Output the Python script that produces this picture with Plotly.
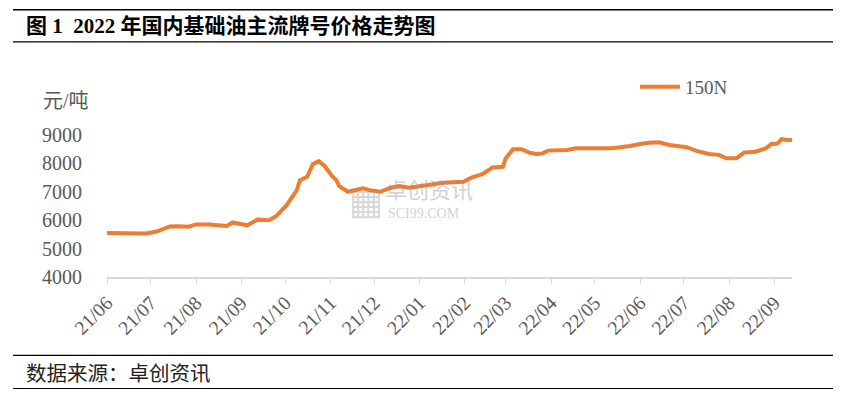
import plotly.graph_objects as go

# ---- data ----
dates = [
    "2021-06-01", "2021-06-10", "2021-06-20", "2021-06-28", "2021-07-05", "2021-07-14",
    "2021-07-20", "2021-07-27", "2021-08-01", "2021-08-10", "2021-08-22", "2021-08-26",
    "2021-09-05", "2021-09-12", "2021-09-20", "2021-09-25", "2021-10-02", "2021-10-09",
    "2021-10-11", "2021-10-16", "2021-10-20", "2021-10-24", "2021-10-28", "2021-11-02",
    "2021-11-05", "2021-11-07", "2021-11-13", "2021-11-19", "2021-11-23", "2021-11-28",
    "2021-12-05", "2021-12-11", "2021-12-18", "2021-12-25", "2022-01-03", "2022-01-17",
    "2022-01-31", "2022-02-06", "2022-02-13", "2022-02-18", "2022-02-20", "2022-02-27",
    "2022-03-01", "2022-03-06", "2022-03-12", "2022-03-17", "2022-03-22", "2022-03-26",
    "2022-03-30", "2022-04-12", "2022-04-18", "2022-05-13", "2022-05-20", "2022-05-25",
    "2022-06-01", "2022-06-07", "2022-06-14", "2022-06-21", "2022-07-03", "2022-07-09",
    "2022-07-18", "2022-07-25", "2022-07-30", "2022-08-06", "2022-08-11", "2022-08-19",
    "2022-08-26", "2022-08-30", "2022-09-03", "2022-09-06", "2022-09-09", "2022-09-13",
]
price_150n = [
    5550, 5540, 5540, 5530, 5600, 5780,
    5790, 5770, 5850, 5850, 5800, 5920,
    5820, 6020, 6000, 6150, 6530, 7060,
    7400, 7530, 7980, 8080, 7910, 7560,
    7410, 7200, 7000, 7060, 7120, 7060,
    7000, 7120, 7200, 7140, 7200, 7320,
    7350, 7510, 7620, 7790, 7860, 7880,
    8180, 8500, 8500, 8380, 8330, 8350,
    8450, 8470, 8530, 8530, 8570, 8610,
    8680, 8730, 8745, 8650, 8570, 8450,
    8330, 8300, 8180, 8180, 8380, 8410,
    8530, 8685, 8700, 8860, 8825, 8825,
]
series_name = "150N"
y_ticks = [4000, 5000, 6000, 7000, 8000, 9000]
title_text = "图 1  2022 年国内基础油主流牌号价格走势图"
source_text = "数据来源：卓创资讯"
unit_text = "元/吨"

# ---- layout geometry (pixels, in page coordinates; page body has 8px margin) ----
OFF = 8
W, H = 842 - 2 * OFF, 397 - 2 * OFF
PLOT_L, PLOT_R, PLOT_T, PLOT_B = 107, 792, 135, 276.7   # page pixel positions
L = PLOT_L - OFF
T = PLOT_T - OFF
R = W - (PLOT_R - OFF)
B = H - (PLOT_B - OFF)
PW, PH = W - L - R, H - T - B


def px2x(px):
    return (px - OFF - L) / PW


def py2y(py):
    return (H - B - (py - OFF)) / PH


SERIF = "Liberation Serif, Noto Sans CJK SC, serif"
GRAY = "#595959"
ORANGE = "#ED7D31"
WM = "rgba(150,150,150,0.45)"

fig = go.Figure()
fig.add_trace(go.Scatter(
    x=dates, y=price_150n, mode="lines", name=series_name,
    line=dict(color=ORANGE, width=4),
))

shapes = []
for py in (10, 42, 355, 388):
    shapes.append(dict(type="line", xref="paper", yref="paper",
                       x0=px2x(13), x1=px2x(833), y0=py2y(py), y1=py2y(py),
                       line=dict(color="#000000", width=1.3)))

annotations = [
    dict(text="<b>" + title_text + "</b>", xref="paper", yref="paper", x=px2x(24), y=py2y(26),
         xanchor="left", yanchor="middle", showarrow=False,
         font=dict(family=SERIF, size=21, color="#000000")),
    dict(text=source_text, xref="paper", yref="paper", x=px2x(24), y=py2y(373),
         xanchor="left", yanchor="middle", showarrow=False,
         font=dict(family=SERIF, size=20.5, color="#222222")),
    dict(text=unit_text, xref="paper", yref="paper", x=px2x(91), y=py2y(101),
         xanchor="right", yanchor="middle", showarrow=False,
         font=dict(family=SERIF, size=20, color=GRAY)),
    dict(text="卓创资讯", xref="paper", yref="paper", x=px2x(383), y=py2y(188),
         xanchor="left", yanchor="middle", showarrow=False,
         font=dict(family="Noto Sans CJK SC", size=22, color=WM)),
    dict(text="SCI99.COM", xref="paper", yref="paper", x=px2x(386), y=py2y(213),
         xanchor="left", yanchor="middle", showarrow=False,
         font=dict(family=SERIF, size=14, color=WM)),
    dict(text="▦", xref="paper", yref="paper", x=px2x(366), y=py2y(201),
         xanchor="center", yanchor="middle", showarrow=False,
         font=dict(family="DejaVu Sans", size=36, color="rgba(150,150,150,0.4)")),
]

fig.update_layout(
    width=W, height=H,
    margin=dict(l=L, r=R, t=T, b=B, autoexpand=False),
    paper_bgcolor="white", plot_bgcolor="white",
    showlegend=True,
    legend=dict(x=px2x(635), y=py2y(87), xanchor="left", yanchor="middle",
                bgcolor="rgba(0,0,0,0)",
                font=dict(family=SERIF, size=19, color=GRAY), itemwidth=40),
    shapes=shapes,
    annotations=annotations,
    xaxis=dict(
        type="date", range=["2021-06-01", "2022-09-13"],
        tick0="2021-06-01", dtick="M1", tickformat="%y/%m",
        tickangle=-45, ticks="outside", ticklen=5, tickcolor="#d9d9d9",
        showline=True, linecolor="#d9d9d9", linewidth=1.5,
        showgrid=False, zeroline=False,
        tickfont=dict(family=SERIF, size=19.5, color=GRAY),
    ),
    yaxis=dict(
        range=[4000, 9000], tickvals=y_ticks,
        showgrid=False, zeroline=False, showline=False,
        ticks="", ticklabelstandoff=24,
        tickfont=dict(family=SERIF, size=20, color=GRAY),
    ),
)

fig.write_html("out.html")
